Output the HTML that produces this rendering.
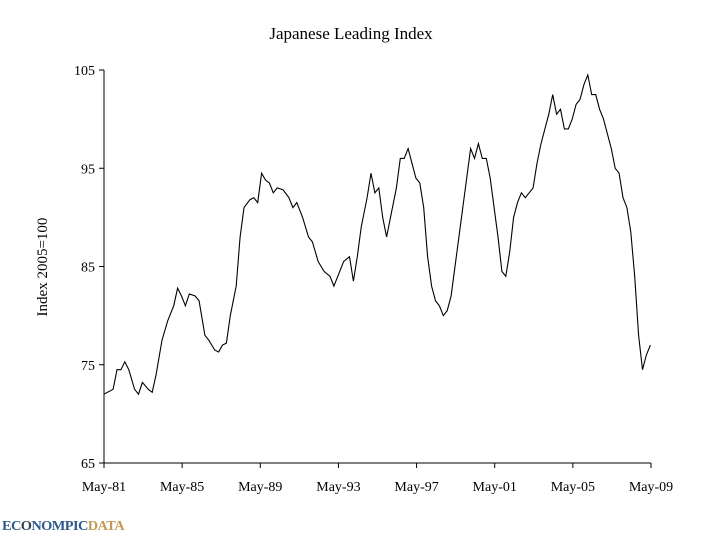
<!DOCTYPE html>
<html><head><meta charset="utf-8">
<style>
html,body{margin:0;padding:0;background:#fff;}
svg{display:block;font-family:"Liberation Serif","DejaVu Serif",serif;}
</style></head>
<body>
<svg id="chart" width="720" height="540" viewBox="0 0 720 540">
<text x="351" y="39" text-anchor="middle" font-size="17">Japanese Leading Index</text>
<text transform="translate(47,267) rotate(-90)" text-anchor="middle" font-size="15">Index 2005=100</text>
<g id="axes"></g>
<path id="series" fill="none" stroke="#000" stroke-width="1.1"/>
<g>
<text x="2" y="530" font-size="14" font-weight="bold" fill="#2f5a8c" font-family="Liberation Serif,serif" letter-spacing="-0.6" textLength="122" lengthAdjust="spacingAndGlyphs">EC<tspan fill="#345">O</tspan>NOMPIC<tspan fill="#c49a55">DATA</tspan></text>
</g>
</svg>
<script>
const years=[1981.33,1981.8,1982.0,1982.2,1982.4,1982.6,1982.9,1983.1,1983.3,1983.6,1983.8,1984.0,1984.3,1984.6,1984.9,1985.1,1985.3,1985.5,1985.7,1986.0,1986.2,1986.5,1986.7,1987.0,1987.2,1987.4,1987.6,1987.8,1988.1,1988.3,1988.5,1988.8,1989.0,1989.2,1989.4,1989.6,1989.8,1990.0,1990.2,1990.5,1990.8,1991.0,1991.2,1991.5,1991.8,1992.0,1992.3,1992.6,1992.9,1993.1,1993.3,1993.6,1993.9,1994.1,1994.3,1994.5,1994.8,1995.0,1995.2,1995.4,1995.6,1995.8,1996.0,1996.3,1996.5,1996.7,1996.9,1997.1,1997.3,1997.5,1997.7,1997.9,1998.1,1998.3,1998.5,1998.7,1998.9,1999.1,1999.3,1999.5,1999.7,1999.9,2000.1,2000.3,2000.5,2000.7,2000.9,2001.1,2001.3,2001.5,2001.7,2001.9,2002.1,2002.3,2002.5,2002.7,2002.9,2003.1,2003.3,2003.5,2003.7,2003.9,2004.1,2004.3,2004.5,2004.7,2004.9,2005.1,2005.3,2005.5,2005.7,2005.9,2006.1,2006.3,2006.5,2006.7,2006.9,2007.1,2007.3,2007.5,2007.7,2007.9,2008.1,2008.3,2008.5,2008.7,2008.9,2009.1,2009.3];
const values=[72,72.5,74.5,74.5,75.3,74.5,72.5,72,73.2,72.5,72.2,74,77.5,79.5,81,82.8,82,81,82.2,82,81.5,78,77.5,76.5,76.3,77,77.2,80,83,88,91,91.8,92,91.5,94.5,93.8,93.5,92.5,93,92.8,92,91,91.5,90,88,87.5,85.5,84.5,84,83,84,85.5,86,83.5,86,89,92,94.5,92.5,93,90,88,90,93,96,96,97,95.5,94,93.5,91,86,83,81.5,81,80,80.5,82,85,88,91,94,97,96,97.5,96,96,94,91,88,84.5,84,86.5,90,91.5,92.5,92,92.5,93,95.5,97.5,99,100.5,102.5,100.5,101,99,99,100,101.5,102,103.5,104.5,102.5,102.5,101,100,98.5,97,95,94.5,92,91,88.5,84,78,74.5,76,77];
const yTicks=[65,75,85,95,105];
const xTickYears=[1981,1985,1989,1993,1997,2001,2005,2009];
const ns="http://www.w3.org/2000/svg";
const X0=104,X1=651,Y0=463,Y1=70;
const xs=t=>X0+(t-1981.333)*(X1-X0)/28;
const ys=v=>Y0-(v-65)*(Y0-Y1)/40;
const ax=document.getElementById('axes');
function mk(tag,attrs){const e=document.createElementNS(ns,tag);for(const k in attrs)e.setAttribute(k,attrs[k]);ax.appendChild(e);return e;}
let e=mk('line',{x1:X0,y1:Y1,x2:X0,y2:Y0,stroke:'#000'});


e=mk('line',{x1:X0,y1:Y0,x2:X1,y2:Y0,stroke:'#000'});


yTicks.forEach(v=>{
  mk('line',{x1:X0-5,y1:ys(v),x2:X0,y2:ys(v),stroke:'#000'});
  const t=mk('text',{x:X0-9,y:ys(v)+5,'text-anchor':'end','font-size':'14'});
  t.textContent=v;
  
  
});
xTickYears.forEach(y=>{
  const x=xs(y+0.333);
  mk('line',{x1:x,y1:Y0,x2:x,y2:Y0+5,stroke:'#000'});
  const t=mk('text',{x:x,y:Y0+28,'text-anchor':'middle','font-size':'14'});
  t.textContent='May-'+String(y).slice(2);
  
  
});
document.getElementById('series').setAttribute('d',years.map((t,i)=>(i?'L':'M')+xs(t).toFixed(1)+','+ys(values[i]).toFixed(1)).join(''));
</script>
</body></html>
